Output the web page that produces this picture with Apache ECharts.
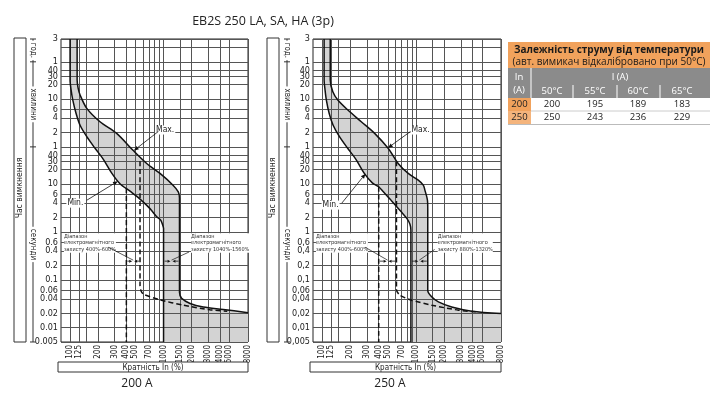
<!DOCTYPE html>
<html><head><meta charset="utf-8">
<script src="https://cdn.jsdelivr.net/npm/echarts@6/dist/echarts.min.js"></script>
<style>html,body{margin:0;padding:0;background:#fff}#c{width:720px;height:401px}</style>
</head><body><div id="c"></div>
<script>
// ---------------- data ----------------
const chartTitle = 'EB2S 250 LA, SA, HA (3p)';
const panelTitles = ['200 A', '250 A'];
const xAxisTitle = 'Кратність In (%)';
const yAxisTitle = 'Час вимкнення';
const yUnitNames = ['год.', 'хвилини', 'секунди'];
// time in seconds
const yTickValues = [10800,7200,3600,2400,1800,1200,600,360,240,120,60,40,30,20,10,6,4,2,1,0.6,0.4,0.2,0.1,0.06,0.04,0.02,0.01,0.005];
const yTickLabelsDot = ['3','2','1','40','30','20','10','6','4','2','1','40','30','20','10','6','4','2','1','0.6','0.4','0.2','0.1','0.06','0.04','0.02','0.01','0.005'];
const yTickLabelsComma = ['3','2','1','40','30','20','10','6','4','2','1','40','30','20','10','6','4','2','1','0,6','0,4','0,2','0,1','0,06','0,04','0,02','0,01','0,005'];
const xLabelValues = [100,125,200,300,400,500,700,1000,1500,2000,3000,4000,5000,8000];
const xGridValues = [100,125,150,200,300,400,500,600,700,800,900,1000,1500,2000,3000,4000,5000,8000];

// 200 A curves [% In, seconds]
const min200 = [[100,10800],[100,1500],[102,1000],[107,570],[116,300],[128,170],[151,98],[185,56],[227,33],[279,17],[342,10.2],[438,7.1],[560,4.86],[716,3.07],[845,2.07],[932,1.77],[979,1.39],[1000,1.18],[1000,0.005]];
const max200 = [[119,10800],[119,1500],[122,1020],[128,730],[151,383],[209,201],[315,115],[471,51],[660,27],[916,16.7],[1262,9.5],[1437,6.9],[1480,5.1],[1480,0.055],[1560,0.041],[1920,0.032],[2660,0.027],[4350,0.024],[8000,0.0205]];
const dashLow200 = [[400,8.2],[400,0.005]];
const dashHigh200 = [[560,30],[560,0.075],[575,0.058],[607,0.05],[916,0.038],[1625,0.0294],[3137,0.0235],[4800,0.022]];

// 250 A curves
const min250 = [[105,10800],[105,1500],[107,1000],[111,570],[119,300],[131,170],[153,98],[187,56],[229,33],[280,17],[342,10.6],[400,8.8],[438,7.3],[546,4.5],[699,2.6],[800,1.9],[860,1.45],[880,1.1],[880,0.005]];
const max250 = [[122,10800],[122,1500],[130,853],[147,572],[188,353],[261,201],[362,115],[504,56],[644,27],[824,16.7],[1054,12.1],[1192,9.5],[1240,7.5],[1320,4.6],[1330,3],[1330,0.06],[1463,0.044],[1725,0.0345],[2393,0.027],[3916,0.022],[8000,0.0197]];
const dashLow250 = [[400,8.8],[400,0.005]];
const dashHigh250 = [[618,30],[618,0.062],[670,0.0476],[894,0.0374],[1463,0.0294],[2822,0.0231],[4500,0.0212]];

const rangeText200 = ['Діапазон\nелектромагнітного\nзахисту 400%-600%', 'Діапазон\nелектромагнітного\nзахисту 1040%-1560%'];
const rangeText250 = ['Діапазон\nелектромагнітного\nзахисту 400%-600%', 'Діапазон\nелектромагнітного\nзахисту 880%-1320%'];

// table
const tableTitle1 = 'Залежність струму від температури';
const tableTitle2 = '(авт. вимикач відкалібровано при 50°C)';
const tableInHead = ['In', '(A)'];
const tableIHead = 'I (A)';
const tableTemps = ['50°C','55°C','60°C','65°C'];
const tableRatings = ['200','250'];
const tableRow200 = [200,195,189,183];
const tableRow250 = [250,243,236,229];

// ---------------- chart ----------------
const AXF = "'Liberation Sans Narrow','DejaVu Sans Condensed','Liberation Sans',sans-serif";
const TF = "'Open Sans','Liberation Sans',sans-serif";
const chart = echarts.init(document.getElementById('c'), null, {renderer:'canvas', width:720, height:401});

function yFmt(labels){
  return function(v){
    let best=0, bd=1e9;
    yTickValues.forEach((tv,i)=>{const d=Math.abs(Math.log10(tv)-Math.log10(v)); if(d<bd){bd=d;best=i;}});
    return labels[best];
  };
}
function xAxisCfg(gi){
  return {type:'log', logBase:10, gridIndex:gi, min:80, max:8000.001, z:2,
    axisLine:{show:false}, axisTick:{show:false, customValues:xGridValues},
    axisLabel:{customValues:xLabelValues, rotate:90, fontSize:8, color:'#222', margin:3, fontFamily:AXF,
      showMinLabel:true, showMaxLabel:true, formatter:v=>String(Math.round(v))},
    splitLine:{show:true, lineStyle:{color:'#555', width:1}}, minorSplitLine:{show:false}};
}
function yAxisCfg(gi, labels){
  return {type:'log', logBase:10, gridIndex:gi, min:0.0049999, max:10800.001, z:2,
    axisLine:{show:false}, axisTick:{show:false, customValues:yTickValues},
    axisLabel:{customValues:yTickValues, fontSize:9, color:'#222', margin:3, fontFamily:AXF,
      showMinLabel:true, showMaxLabel:true, hideOverlap:false, formatter:yFmt(labels)},
    splitLine:{show:true, lineStyle:{color:'#555', width:1}}, minorSplitLine:{show:false}};
}
function fillSeries(gi, minC, maxC){
  const poly = minC.concat([[8000,0.005]], maxC.slice().reverse());
  return {type:'custom', xAxisIndex:gi, yAxisIndex:gi, z:1, silent:true, clip:true, data:[[100,1]],
    renderItem:function(params, api){
      return {type:'polygon', shape:{points:poly.map(p=>api.coord(p))}, style:{fill:'#d3d3d3'}};
    }};
}
function lineSeries(gi, data, dashed){
  return {type:'line', xAxisIndex:gi, yAxisIndex:gi, data:data, showSymbol:false, symbol:'none', z:5, silent:true,
    smooth:dashed?0.2:0.3, lineStyle:{color:'#111', width:1.5, type:dashed?[5,3]:'solid'}};
}

chart.setOption({
  animation:false,
  grid:[
    {left:61, top:39, width:187, height:303, show:true, borderColor:'#222', borderWidth:1, backgroundColor:'transparent'},
    {left:313, top:39, width:188, height:303, show:true, borderColor:'#222', borderWidth:1, backgroundColor:'transparent'}
  ],
  xAxis:[xAxisCfg(0), xAxisCfg(1)],
  yAxis:[yAxisCfg(0, yTickLabelsDot), yAxisCfg(1, yTickLabelsComma)],
  series:[
    fillSeries(0, min200, max200),
    lineSeries(0, min200, false), lineSeries(0, max200, false),
    lineSeries(0, dashLow200, true), lineSeries(0, dashHigh200, true),
    fillSeries(1, min250, max250),
    lineSeries(1, min250, false), lineSeries(1, max250, false),
    lineSeries(1, dashLow250, true), lineSeries(1, dashHigh250, true)
  ]
});

// ---------------- annotations ----------------
const P = (g, x, t) => chart.convertToPixel({gridIndex:g}, [x, t]);
const Z = 100;
function arrow(p1, p2, head, hw, lw){
  head = head||5; hw = hw||2; lw = lw||0.8;
  const dx=p2[0]-p1[0], dy=p2[1]-p1[1], L=Math.hypot(dx,dy), ux=dx/L, uy=dy/L;
  const bx=p2[0]-ux*head, by=p2[1]-uy*head;
  return [
    {type:'line', z:Z, silent:true, shape:{x1:p1[0],y1:p1[1],x2:bx,y2:by}, style:{stroke:'#111', lineWidth:lw}},
    {type:'polygon', z:Z, silent:true, shape:{points:[[p2[0],p2[1]],[bx-uy*hw,by+ux*hw],[bx+uy*hw,by-ux*hw]]}, style:{fill:'#111'}}
  ];
}
function txt(x, y, text, font, opts){
  return Object.assign({type:'text', z:Z, silent:true, x:x, y:y,
    style:Object.assign({text:text, font:font, fill:'#222', align:'center', verticalAlign:'middle'}, (opts&&opts.style)||{})},
    opts&&opts.rotation!==undefined?{rotation:opts.rotation}:{});
}
const G = [];
G.push(txt(263, 21, chartTitle, "12.5px "+TF, {style:{fill:'#222'}}));

const panels = [
  {g:0, boxX:14, lineX:33, boxL:58, boxR:248, subCx:137,
   maxText:[1040,135], maxArrow:[[880,126],[480,50]], minText:[114,4.0], minArrow:[[151,4.6],[325,11.5]],
   lowX:400, highX:560, minV:1000, maxV:1480, texts:rangeText200,
   t1:[86,0.943], t2:[1966,0.943], lead1:[255,0.48], lead2:[1870,0.38]},
  {g:1, boxX:267, lineX:287, boxL:310, boxR:501, subCx:390,
   maxText:[1115,135], maxArrow:[[872,126],[500,57]], minText:[123,3.64], minArrow:[[162,4.0],[290,16.5]],
   lowX:400, highX:618, minV:880, maxV:1330, texts:rangeText250,
   t1:[86,0.943], t2:[1696,0.943], lead1:[286,0.48], lead2:[1574,0.43]}
];
panels.forEach((pn, i) => {
  const g = pn.g;
  const yTop = P(g, 1000, 10800)[1], y1h = P(g,1000,3600)[1], y1m = P(g,1000,60)[1], yBot = P(g,1000,0.005)[1];
  G.push({type:'rect', z:Z, silent:true, shape:{x:pn.boxX, y:38, width:12, height:304}, style:{fill:'#fff', stroke:'#333', lineWidth:1}});
  G.push(txt(pn.boxX+6, 188, yAxisTitle, "8.5px "+AXF, {rotation:Math.PI/2}));
  G.push({type:'line', z:Z, silent:true, shape:{x1:pn.lineX, y1:yTop, x2:pn.lineX, y2:yBot}, style:{stroke:'#333', lineWidth:1}});
  [yTop, y1h, y1m, yBot].forEach(yy => G.push({type:'line', z:Z, silent:true, shape:{x1:pn.lineX-3, y1:yy, x2:pn.lineX+3, y2:yy}, style:{stroke:'#333', lineWidth:1}}));
  const segs = [[yTop,y1h],[y1h,y1m],[y1m,yBot]];
  yUnitNames.forEach((nm, k) => {
    G.push(txt(pn.lineX, (segs[k][0]+segs[k][1])/2, nm, "8px "+AXF, {rotation:-Math.PI/2, style:{backgroundColor:'#fff', padding:[0,2]}}));
  });
  G.push({type:'rect', z:Z, silent:true, shape:{x:pn.boxL, y:362, width:pn.boxR-pn.boxL, height:10}, style:{fill:'#fff', stroke:'#333', lineWidth:1}});
  G.push(txt((pn.boxL+pn.boxR)/2, 367.5, xAxisTitle, "8px "+AXF));
  G.push(txt(pn.subCx, 384, panelTitles[i], "12px "+TF));
  let p = P(g, pn.maxText[0], pn.maxText[1]);
  G.push(txt(p[0], p[1], 'Max.', "8.5px "+AXF, {style:{backgroundColor:'#fff', padding:[0,1]}}));
  G.push(...arrow(P(g, ...pn.maxArrow[0]), P(g, ...pn.maxArrow[1])));
  p = P(g, pn.minText[0], pn.minText[1]);
  G.push(txt(p[0], p[1], 'Min.', "8.5px "+AXF, {style:{backgroundColor:'#fff', padding:[0,1]}}));
  G.push(...arrow(P(g, ...pn.minArrow[0]), P(g, ...pn.minArrow[1])));
  [[pn.t1, pn.texts[0]], [pn.t2, pn.texts[1]]].forEach(([pos, tx]) => {
    const q = P(g, pos[0], pos[1]);
    G.push({type:'text', z:Z, silent:true, x:q[0], y:q[1], style:{text:tx, font:"5.5px "+AXF, fill:'#333', align:'left', verticalAlign:'top', lineHeight:6.5, backgroundColor:'#fff'}});
  });
  const tA = 0.245;
  const m1 = Math.sqrt(pn.lowX*pn.highX), m2 = Math.sqrt(pn.minV*pn.maxV);
  const a = P(g, pn.lowX, tA), b = P(g, pn.highX, tA), c = P(g, pn.minV, tA), d = P(g, pn.maxV, tA);
  const mm1 = P(g, m1, tA), mm2 = P(g, m2, tA);
  G.push(...arrow([a[0]+1, a[1]], [mm1[0]-1, a[1]], 3, 1.5, 0.8));
  G.push(...arrow([b[0]-1, b[1]], [mm1[0]+1, b[1]], 3, 1.5, 0.8));
  G.push(...arrow([c[0]+1, c[1]], [mm2[0]-1, c[1]], 3, 1.5, 0.8));
  G.push(...arrow([d[0]-1, d[1]], [mm2[0]+1, d[1]], 3, 1.5, 0.8));
  const l1 = P(g, pn.lead1[0], pn.lead1[1]), l2 = P(g, pn.lead2[0], pn.lead2[1]);
  G.push({type:'line', z:Z, silent:true, shape:{x1:l1[0], y1:l1[1], x2:mm1[0], y2:mm1[1]-1}, style:{stroke:'#111', lineWidth:0.7}});
  G.push({type:'line', z:Z, silent:true, shape:{x1:l2[0], y1:l2[1], x2:mm2[0], y2:mm2[1]-1}, style:{stroke:'#111', lineWidth:0.7}});
});

// ---------------- table ----------------
const TX = 508, TW = 202, ORANGE = '#f1a25c', GRAY = '#8b8b8b';
G.push({type:'rect', z:Z, silent:true, shape:{x:TX, y:42, width:TW, height:26}, style:{fill:ORANGE}});
G.push(txt(TX+TW/2, 50, tableTitle1, "bold 10px "+TF, {style:{fill:'#1a1a1a'}}));
G.push(txt(TX+TW/2, 62, tableTitle2, "10px "+TF, {style:{fill:'#1a1a1a'}}));
G.push({type:'rect', z:Z, silent:true, shape:{x:TX, y:68, width:TW, height:30}, style:{fill:GRAY}});
G.push(txt(519, 77, tableInHead[0], "9.5px "+TF, {style:{fill:'#fff'}}));
G.push(txt(519, 90, tableInHead[1], "9.5px "+TF, {style:{fill:'#fff'}}));
G.push({type:'line', z:Z, silent:true, shape:{x1:531, y1:68, x2:531, y2:124}, style:{stroke:'#fff', lineWidth:1}});
G.push(txt(620, 77, tableIHead, "9.5px "+TF, {style:{fill:'#fff'}}));
const colX = [552, 595, 638, 682];
tableTemps.forEach((t, k) => G.push(txt(colX[k], 91, t, "9.5px "+TF, {style:{fill:'#fff'}})));
[573, 617, 660].forEach(x => G.push({type:'line', z:Z, silent:true, shape:{x1:x, y1:85, x2:x, y2:98}, style:{stroke:'#fff', lineWidth:1}}));
[[tableRatings[0], tableRow200, 98, '#f1a25c'], [tableRatings[1], tableRow250, 111, '#f4b47c']].forEach(([r, vals, y, col]) => {
  G.push({type:'rect', z:Z, silent:true, shape:{x:TX, y:y, width:23, height:13}, style:{fill:col}});
  G.push(txt(519.5, y+6.5, r, "9.5px "+TF, {style:{fill:'#222'}}));
  vals.forEach((v, k) => G.push(txt(colX[k], y+6.5, String(v), "9.5px "+TF, {style:{fill:'#222'}})));
});
G.push({type:'line', z:Z, silent:true, shape:{x1:531, y1:111, x2:TX+TW, y2:111}, style:{stroke:'#ccc', lineWidth:1}});
G.push({type:'line', z:Z, silent:true, shape:{x1:TX, y1:124.5, x2:TX+TW, y2:124.5}, style:{stroke:'#bbb', lineWidth:1}});

chart.setOption({graphic:{elements:G}});
</script>
</body></html>
